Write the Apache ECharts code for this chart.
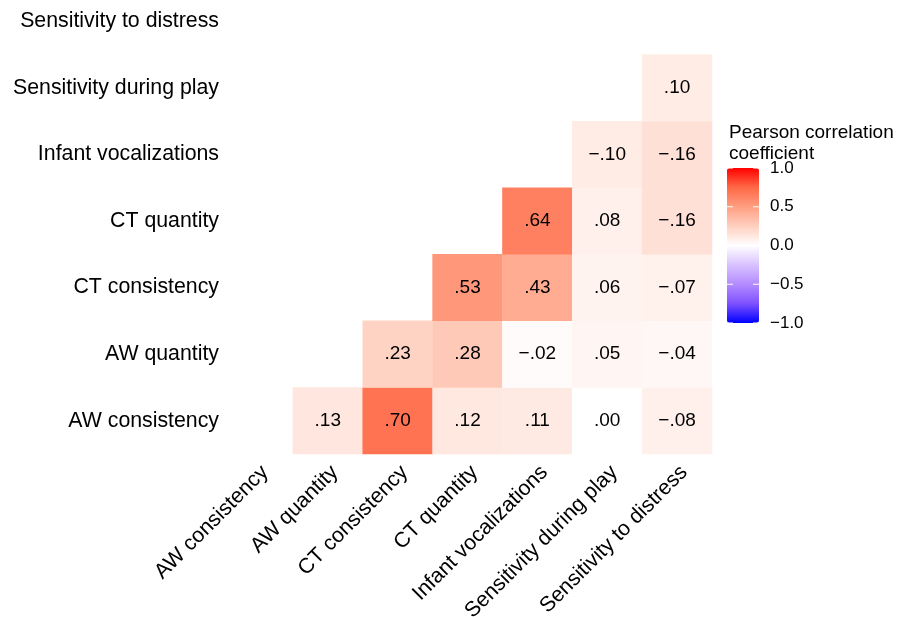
<!DOCTYPE html>
<html>
<head>
<meta charset="utf-8">
<script src="https://cdn.jsdelivr.net/npm/echarts@6/dist/echarts.min.js"></script>
<style>html,body{margin:0;padding:0;background:#fff;}#chart{width:898px;height:617px;}</style>
</head>
<body>
<div id="chart"></div>
<script>
const variables = ['AW consistency','AW quantity','CT consistency','CT quantity','Infant vocalizations','Sensitivity during play','Sensitivity to distress'];
// correlations of each row variable with the column variables (null = not shown)
const rowAWConsistency    = [null, 0.13, 0.70, 0.12, 0.11, 0.00, -0.08];
const rowAWQuantity       = [null, null, 0.23, 0.28, -0.02, 0.05, -0.04];
const rowCTConsistency    = [null, null, null, 0.53, 0.43, 0.06, -0.07];
const rowCTQuantity       = [null, null, null, null, 0.64, 0.08, -0.16];
const rowInfantVoc        = [null, null, null, null, null, -0.10, -0.16];
const rowSensPlay         = [null, null, null, null, null, null, 0.10];
const rowSensDistress     = [null, null, null, null, null, null, null];
const rows = [rowAWConsistency, rowAWQuantity, rowCTConsistency, rowCTQuantity, rowInfantVoc, rowSensPlay, rowSensDistress];
const legendTicks = [1.0, 0.5, 0.0, -0.5, -1.0];
const legendTitle = 'Pearson correlation\ncoefficient';

const data = [];
rows.forEach((row, yi) => {
  row.forEach((v, xi) => {
    if (v !== null) data.push([xi, yi, v, Math.abs(v)]);
  });
});

function fmt(v) {
  const s = Math.abs(v).toFixed(2).replace(/^0/, '');
  return (v < 0 ? '\u2212' : '') + s;
}
function fmtTick(v) {
  return (v < 0 ? '\u2212' : '') + Math.abs(v).toFixed(1);
}

const FONT = "'Liberation Sans', Arial, Helvetica, sans-serif";
const barLeft = 727, barTop = 168, barW = 32, barH = 155;

const graphics = [{
  type: 'text', left: 729, top: 122,
  style: { text: legendTitle, font: '19px ' + FONT, fill: '#000', lineHeight: 21 }
}];
legendTicks.forEach(t => {
  const y = barTop + (1 - (t + 1) / 2) * barH;
  graphics.push({ type: 'line', shape: { x1: barLeft, y1: y, x2: barLeft + 6, y2: y }, style: { stroke: '#fff', lineWidth: 1 }, z: 100 });
  graphics.push({ type: 'line', shape: { x1: barLeft + barW - 6, y1: y, x2: barLeft + barW, y2: y }, style: { stroke: '#fff', lineWidth: 1 }, z: 100 });
  graphics.push({ type: 'text', x: barLeft + 43, y: y, style: { text: fmtTick(t), font: '17px ' + FONT, fill: '#000', textVerticalAlign: 'middle', verticalAlign: 'middle' }, z: 100 });
});

const chart = echarts.init(document.getElementById('chart'));
chart.setOption({
  animation: false,
  backgroundColor: '#fff',
  grid: { left: 223, right: 186, top: -12, bottom: 163, outerBoundsMode: 'none', containLabel: false },
  xAxis: {
    type: 'category', data: variables,
    axisLine: { show: false }, axisTick: { show: false }, splitLine: { show: false },
    axisLabel: { rotate: 45, interval: 0, margin: 8, verticalAlign: 'top', lineHeight: 20, fontSize: 21.3, fontFamily: FONT, color: '#000' }
  },
  yAxis: {
    type: 'category', data: variables,
    axisLine: { show: false }, axisTick: { show: false }, splitLine: { show: false },
    axisLabel: { interval: 0, margin: 4, fontSize: 21.3, fontFamily: FONT, color: '#000' }
  },
  visualMap: {
    type: 'continuous', min: -1, max: 1, dimension: 3,
    calculable: false, hoverLink: false,
    left: barLeft, top: barTop, itemWidth: barW, itemHeight: barH, padding: 0,
    text: ['', ''], showLabel: false,
    inRange: { color: ['#0000FF','#7E51FF','#B38BFF','#D9C2FF','#FFFFFF','#FFCFBF','#FF9E81','#FF6846','#FF0000'] }
  },
  series: [{
    type: 'heatmap', data: data,
    label: { show: true, formatter: p => fmt(p.data[2]), fontSize: 19, fontFamily: FONT, color: '#000' },
    itemStyle: { borderWidth: 0 },
    emphasis: { disabled: true }
  }],
  graphic: graphics
});
</script>
</body>
</html>
